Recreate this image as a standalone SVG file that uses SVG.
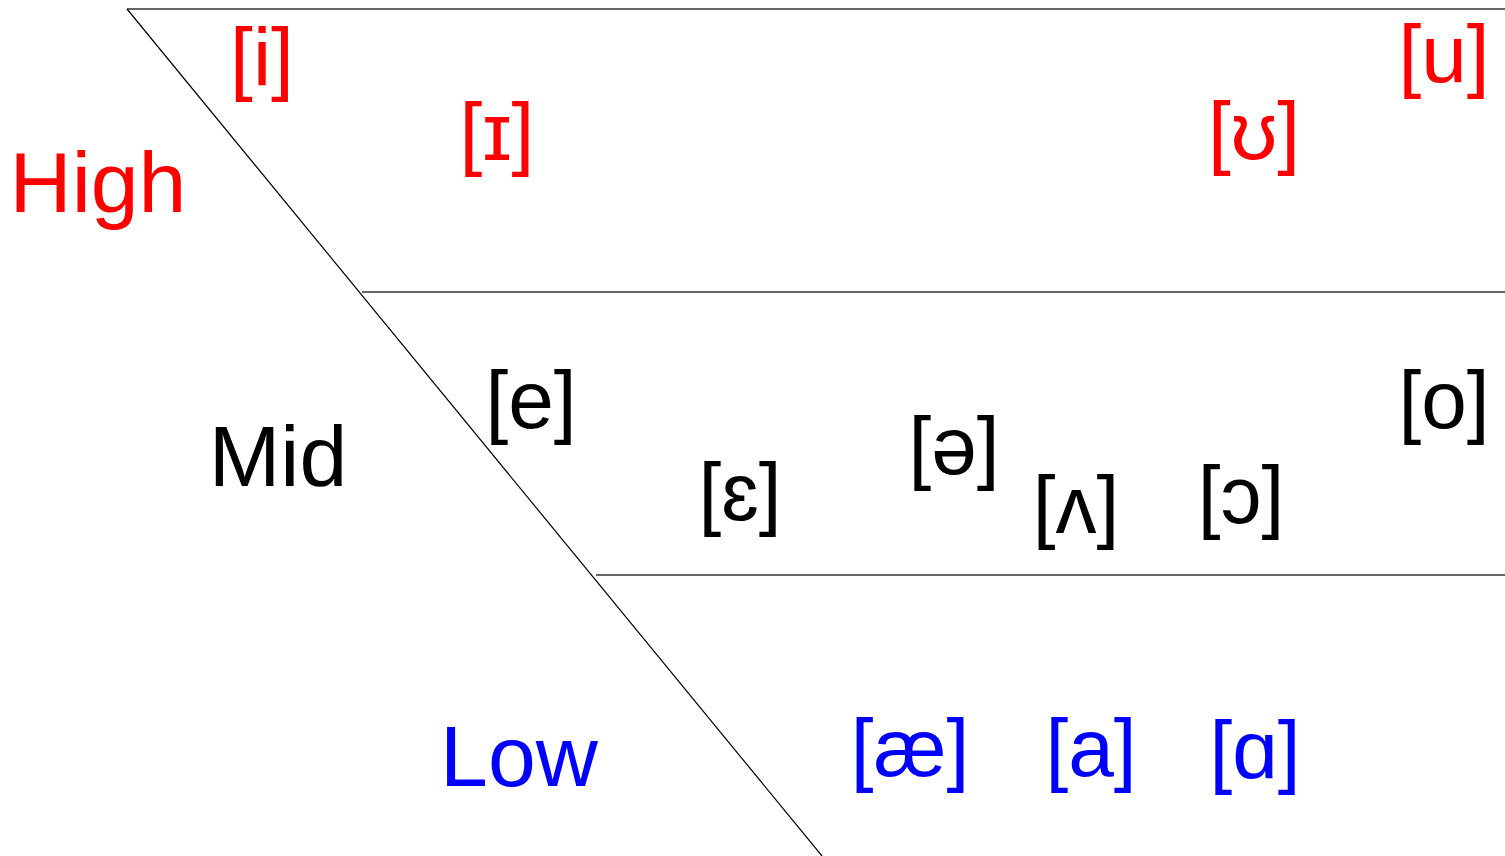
<svg xmlns="http://www.w3.org/2000/svg" width="1505" height="856" viewBox="0 0 1505 856">
<style>
text{font-family:"Liberation Sans",Arial,sans-serif;text-anchor:middle}
.v{font-size:82px}
.l{font-size:86px}
.r{fill:#ff0000}
.b{fill:#0000ff}
.k{fill:#000000}
.h{stroke:#333333;stroke-width:1.3;fill:none}
.d{stroke:#000000;stroke-width:1.2;fill:none}
</style>
<rect width="1505" height="856" fill="#ffffff"/>
<g id="connectors">
<line class="h" x1="127" y1="9" x2="1505" y2="9"/>
<line class="h" x1="362" y1="292" x2="1505" y2="292"/>
<line class="h" x1="596" y1="575" x2="1505" y2="575"/>
<line class="d" x1="127" y1="9" x2="822" y2="856"/>
</g>
<g id="label-high"><text class="l r" x="98" y="212">High</text></g>
<g id="label-mid"><text class="l k" x="278" y="486">Mid</text></g>
<g id="label-low"><text class="l b" x="519" y="786">Low</text></g>
<g id="v-i"><text class="v r" x="262" y="85">[i]</text></g>
<g id="v-ɪ"><text class="v r" x="497" y="160">[ɪ]</text></g>
<g id="v-ʊ"><text class="v r" x="1254" y="159">[ʊ]</text></g>
<g id="v-u"><text class="v r" x="1444" y="82">[u]</text></g>
<g id="v-e"><text class="v k" x="531" y="428">[e]</text></g>
<g id="v-ɛ"><text class="v k" x="740" y="520">[ɛ]</text></g>
<g id="v-ə"><text class="v k" x="954" y="474">[ə]</text></g>
<g id="v-ʌ"><text class="v k" x="1076" y="533">[ʌ]</text></g>
<g id="v-ɔ"><text class="v k" x="1241" y="523">[ɔ]</text></g>
<g id="v-o"><text class="v k" x="1444" y="428">[o]</text></g>
<g id="v-æ"><text class="v b" x="910" y="776">[æ]</text></g>
<g id="v-a"><text class="v b" x="1091" y="776">[a]</text></g>
<g id="v-ɑ"><text class="v b" x="1255" y="778">[ɑ]</text></g>
</svg>
